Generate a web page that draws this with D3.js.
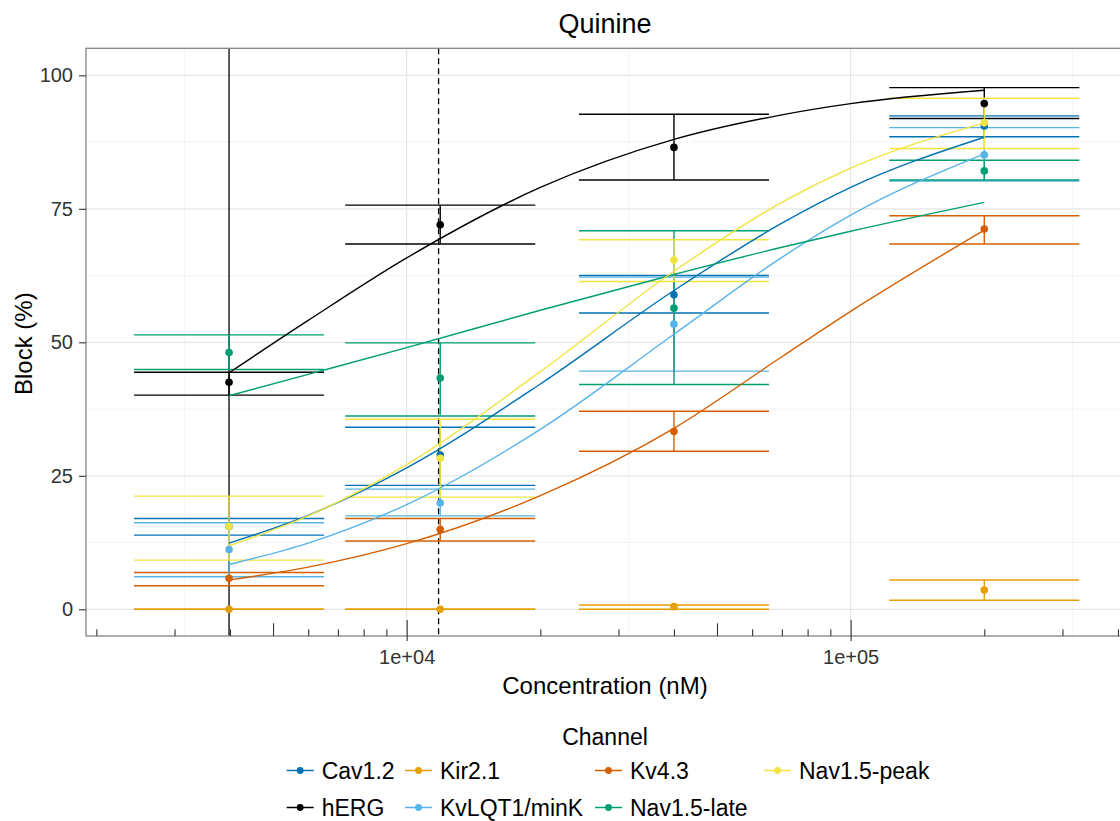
<!DOCTYPE html>
<html><head><meta charset="utf-8">
<script src="https://cdn.jsdelivr.net/npm/d3@7"></script>
<style>
body{margin:0;background:#fff}
svg{display:block}
text{font-family:"Liberation Sans",Arial,Helvetica,sans-serif}
</style>
</head><body>
<svg id="chart" width="1120" height="821"></svg>
<script>
// ---------------- DATA ----------------
const chartTitle = "Quinine";
const channels = ["Cav1.2","hERG","Kir2.1","Kv4.3","KvLQT1/minK","Nav1.5-late","Nav1.5-peak"];
const channelColors = ["#0072B2","#000000","#E69F00","#D55E00","#56B4E9","#009E73","#F0E442"];

// tested concentrations (nM)
const concentrations = [3980, 11900, 40000, 200000];

// mean block (%) and error bar limits per channel
const cav12Mean = [15.5, 28.9, 58.9, 90.5];
const cav12Lo   = [13.9, 23.2, 55.5, 88.5];
const cav12Hi   = [17.0, 34.1, 62.5, 92.4];

const hergMean  = [42.5, 72.0, 86.5, 94.7];
const hergLo    = [40.1, 68.4, 80.4, 91.9];
const hergHi    = [44.4, 75.7, 92.7, 97.7];

const kir21Mean = [0.0, 0.0, 0.5, 3.6];
const kir21Lo   = [0.0, 0.0, 0.0, 1.7];
const kir21Hi   = [0.0, 0.0, 0.8, 5.5];

const kv43Mean  = [5.8, 15.0, 33.3, 71.2];
const kv43Lo    = [4.4, 12.8, 29.6, 68.4];
const kv43Hi    = [6.9, 17.0, 37.1, 73.7];

const kvlqtMean = [11.2, 19.9, 53.4, 85.1];
const kvlqtLo   = [6.1, 17.5, 44.6, 80.2];
const kvlqtHi   = [16.2, 22.5, 62.2, 90.2];

const navLateMean = [48.1, 43.3, 56.4, 82.1];
const navLateLo   = [44.9, 36.2, 42.1, 80.4];
const navLateHi   = [51.4, 49.9, 70.9, 84.1];

const navPeakMean = [15.5, 28.3, 65.4, 91.1];
const navPeakLo   = [9.2, 21.0, 61.4, 86.3];
const navPeakHi   = [21.2, 35.6, 69.2, 95.7];

// fitted dose-response curves, read at these concentrations (nM)
const curveConc   = [3980, 6000, 10000, 20000, 40000, 70000, 100000, 200000];
const cav12Curve  = [12.4, 17.6, 26.5, 42.2, 59.7, 72.3, 79.0, 88.4];
const hergCurve   = [44.3, 54.1, 65.8, 79.0, 88.0, 92.6, 94.7, 97.2];
const kv43Curve   = [5.5, 7.9, 12.3, 21.3, 33.9, 47.3, 55.8, 71.0];
const kvlqtCurve  = [8.4, 12.4, 19.6, 33.7, 51.5, 65.9, 73.8, 85.3];
const navLateCurve= [40.0, 44.0, 49.0, 56.0, 62.7, 67.8, 70.8, 76.2];
const navPeakCurve= [11.9, 17.5, 27.1, 44.5, 63.3, 76.2, 82.6, 91.1];

// reference concentrations (vertical lines)
const refSolid  = 3980;
const refDashed = 11800;

// axes
const yTickValues = [0, 25, 50, 75, 100];
const yTickLabels = ["0", "25", "50", "75", "100"];
const xTickValues = [1e4, 1e5];
const xTickLabels = ["1e+04", "1e+05"];
const xLabel = "Concentration (nM)";
const yLabel = "Block (%)";
const legendTitle = "Channel";

// legend layout (row, col) order as shown
const legendOrder = ["Cav1.2","Kir2.1","Kv4.3","Nav1.5-peak","hERG","KvLQT1/minK","Nav1.5-late"];

// ---------------- BUILD ----------------
const seriesTable = {
  "Cav1.2":      {mean: cav12Mean, lo: cav12Lo, hi: cav12Hi, curve: cav12Curve},
  "hERG":        {mean: hergMean, lo: hergLo, hi: hergHi, curve: hergCurve},
  "Kir2.1":      {mean: kir21Mean, lo: kir21Lo, hi: kir21Hi, curve: null},
  "Kv4.3":       {mean: kv43Mean, lo: kv43Lo, hi: kv43Hi, curve: kv43Curve},
  "KvLQT1/minK": {mean: kvlqtMean, lo: kvlqtLo, hi: kvlqtHi, curve: kvlqtCurve},
  "Nav1.5-late": {mean: navLateMean, lo: navLateLo, hi: navLateHi, curve: navLateCurve},
  "Nav1.5-peak": {mean: navPeakMean, lo: navPeakLo, hi: navPeakHi, curve: navPeakCurve}
};
const color = d3.scaleOrdinal().domain(channels).range(channelColors);

const svg = d3.select("#chart");
const P = {left: 86, right: 1127, top: 48.3, bottom: 636};

const x = d3.scaleLog().domain([Math.pow(10, 3.2777), Math.pow(10, 5.6225)]).range([P.left, P.right]);
const y = d3.scaleLinear().domain([-5.0, 105.06]).range([P.bottom, P.top]);

const capHalfDecades = 0.214;
const pointR = 3.8;

// clip
svg.append("defs").append("clipPath").attr("id","clip")
  .append("rect").attr("x",P.left).attr("y",P.top).attr("width",P.right-P.left).attr("height",P.bottom-P.top);

// panel background
svg.append("rect").attr("x",P.left).attr("y",P.top).attr("width",P.right-P.left).attr("height",P.bottom-P.top).attr("fill","#fff");

// grid
const grid = svg.append("g");
const yMinor = [12.5, 37.5, 62.5, 87.5];
const xMinor = [Math.pow(10,3.5), Math.pow(10,4.5), Math.pow(10,5.5)];
grid.selectAll(".ymin").data(yMinor).join("line")
  .attr("x1",P.left).attr("x2",P.right).attr("y1",d=>y(d)).attr("y2",d=>y(d))
  .attr("stroke","#f3f3f3").attr("stroke-width",0.9);
grid.selectAll(".xmin").data(xMinor).join("line")
  .attr("y1",P.top).attr("y2",P.bottom).attr("x1",d=>x(d)).attr("x2",d=>x(d))
  .attr("stroke","#f3f3f3").attr("stroke-width",0.9);
grid.selectAll(".ymaj").data(yTickValues).join("line")
  .attr("x1",P.left).attr("x2",P.right).attr("y1",d=>y(d)).attr("y2",d=>y(d))
  .attr("stroke","#e6e6e6").attr("stroke-width",1.2);
grid.selectAll(".xmaj").data(xTickValues).join("line")
  .attr("y1",P.top).attr("y2",P.bottom).attr("x1",d=>x(d)).attr("x2",d=>x(d))
  .attr("stroke","#e6e6e6").attr("stroke-width",1.2);

const plot = svg.append("g").attr("clip-path","url(#clip)");

// reference vertical lines
plot.append("line").attr("x1",x(refSolid)).attr("x2",x(refSolid)).attr("y1",P.top).attr("y2",P.bottom)
  .attr("stroke","#000").attr("stroke-width",1.3);
plot.append("line").attr("x1",x(refDashed)).attr("x2",x(refDashed)).attr("y1",P.top).attr("y2",P.bottom)
  .attr("stroke","#000").attr("stroke-width",1.3).attr("stroke-dasharray","6,4");

// error bars
channels.forEach(ch => {
  const s = seriesTable[ch];
  const g = plot.append("g").attr("stroke", color(ch)).attr("stroke-width",1.4).attr("fill","none");
  concentrations.forEach((c,i) => {
    const xl = x(c / Math.pow(10,capHalfDecades)), xr = x(c * Math.pow(10,capHalfDecades));
    g.append("line").attr("x1",xl).attr("x2",xr).attr("y1",y(s.hi[i])).attr("y2",y(s.hi[i]));
    g.append("line").attr("x1",xl).attr("x2",xr).attr("y1",y(s.lo[i])).attr("y2",y(s.lo[i]));
    g.append("line").attr("x1",x(c)).attr("x2",x(c)).attr("y1",y(s.lo[i])).attr("y2",y(s.hi[i]));
  });
});

// curves
const line = d3.line().x(d=>x(d[0])).y(d=>y(d[1])).curve(d3.curveMonotoneX);
channels.forEach(ch => {
  const s = seriesTable[ch];
  if (!s.curve) return;
  plot.append("path").datum(curveConc.map((c,i)=>[c, s.curve[i]]))
    .attr("d", line).attr("fill","none").attr("stroke", color(ch)).attr("stroke-width",1.4);
});

// points
channels.forEach(ch => {
  const s = seriesTable[ch];
  plot.append("g").selectAll("circle").data(concentrations.map((c,i)=>[c, s.mean[i]])).join("circle")
    .attr("cx",d=>x(d[0])).attr("cy",d=>y(d[1])).attr("r",pointR).attr("fill", color(ch));
});

// panel border
svg.append("rect").attr("x",P.left).attr("y",P.top).attr("width",P.right-P.left).attr("height",P.bottom-P.top)
  .attr("fill","none").attr("stroke","#858585").attr("stroke-width",1.3);

// y axis
const yAxis = svg.append("g").attr("transform",`translate(${P.left},0)`)
  .call(d3.axisLeft(y).tickValues(yTickValues).tickFormat((d,i)=>yTickLabels[i]).tickSize(7).tickPadding(6));
yAxis.select(".domain").remove();
yAxis.selectAll("line").attr("stroke","#333").attr("stroke-width",1.1);
yAxis.selectAll("text").attr("font-size",20).attr("fill","#333").attr("font-family","Liberation Sans, Arial, sans-serif");

// x axis major
const xAxis = svg.append("g").attr("transform",`translate(0,${P.bottom})`)
  .call(d3.axisBottom(x).tickValues(xTickValues).tickFormat((d,i)=>xTickLabels[i]).tickSize(5).tickPadding(9));
xAxis.select(".domain").remove();
xAxis.selectAll("line").attr("stroke","#333").attr("stroke-width",1.1);
xAxis.selectAll("text").attr("font-size",20).attr("fill","#333").attr("font-family","Liberation Sans, Arial, sans-serif");

// log ticks (inside, bottom)
const logTicks = [];
for (let e = 3; e <= 5; e++) for (let m = 1; m <= 9; m++) {
  const v = m * Math.pow(10, e);
  if (v >= x.domain()[0] && v <= x.domain()[1]) logTicks.push({v, m});
}
const tickLen = m => m === 1 ? 16 : (m === 5 ? 12.7 : 6.7);
[1,5,0].forEach(kind => {
  const vals = logTicks.filter(t => kind === 0 ? (t.m !== 1 && t.m !== 5) : t.m === kind).map(t=>t.v);
  const ax = svg.append("g").attr("transform",`translate(0,${P.bottom})`)
    .call(d3.axisTop(x).tickValues(vals).tickFormat("").tickSize(tickLen(kind === 0 ? 2 : kind)));
  ax.select(".domain").remove();
  ax.selectAll("line").attr("stroke","#333").attr("stroke-width",1.1);
});

// titles
svg.append("text").attr("x",605).attr("y",32.5).attr("text-anchor","middle")
  .attr("font-size",27).attr("fill","#000").text(chartTitle);
svg.append("text").attr("x",605).attr("y",694).attr("text-anchor","middle")
  .attr("font-size",24).attr("fill","#000").text(xLabel);
svg.append("text").attr("transform",`translate(31.5,${(P.top+P.bottom)/2 + 1.5}) rotate(-90)`).attr("text-anchor","middle")
  .attr("font-size",24).attr("fill","#000").text(yLabel);

// legend
const lg = svg.append("g");
lg.append("text").attr("x",605).attr("y",745).attr("text-anchor","middle").attr("font-size",23).attr("fill","#000").text(legendTitle);
const colKeyX = [286.7, 405, 595, 764];
const rowY = [770.5, 807.5];
legendOrder.forEach((ch, i) => {
  const r = Math.floor(i / 4), c = i % 4;
  const kx = colKeyX[c], ky = rowY[r];
  lg.append("line").attr("x1",kx).attr("x2",kx+27).attr("y1",ky).attr("y2",ky)
    .attr("stroke",color(ch)).attr("stroke-width",1.5);
  lg.append("circle").attr("cx",kx+13.5).attr("cy",ky).attr("r",3.4).attr("fill",color(ch));
  lg.append("text").attr("x",kx+35).attr("y",ky+8).attr("font-size",23).attr("fill","#000").text(ch);
});
</script>
</body></html>
